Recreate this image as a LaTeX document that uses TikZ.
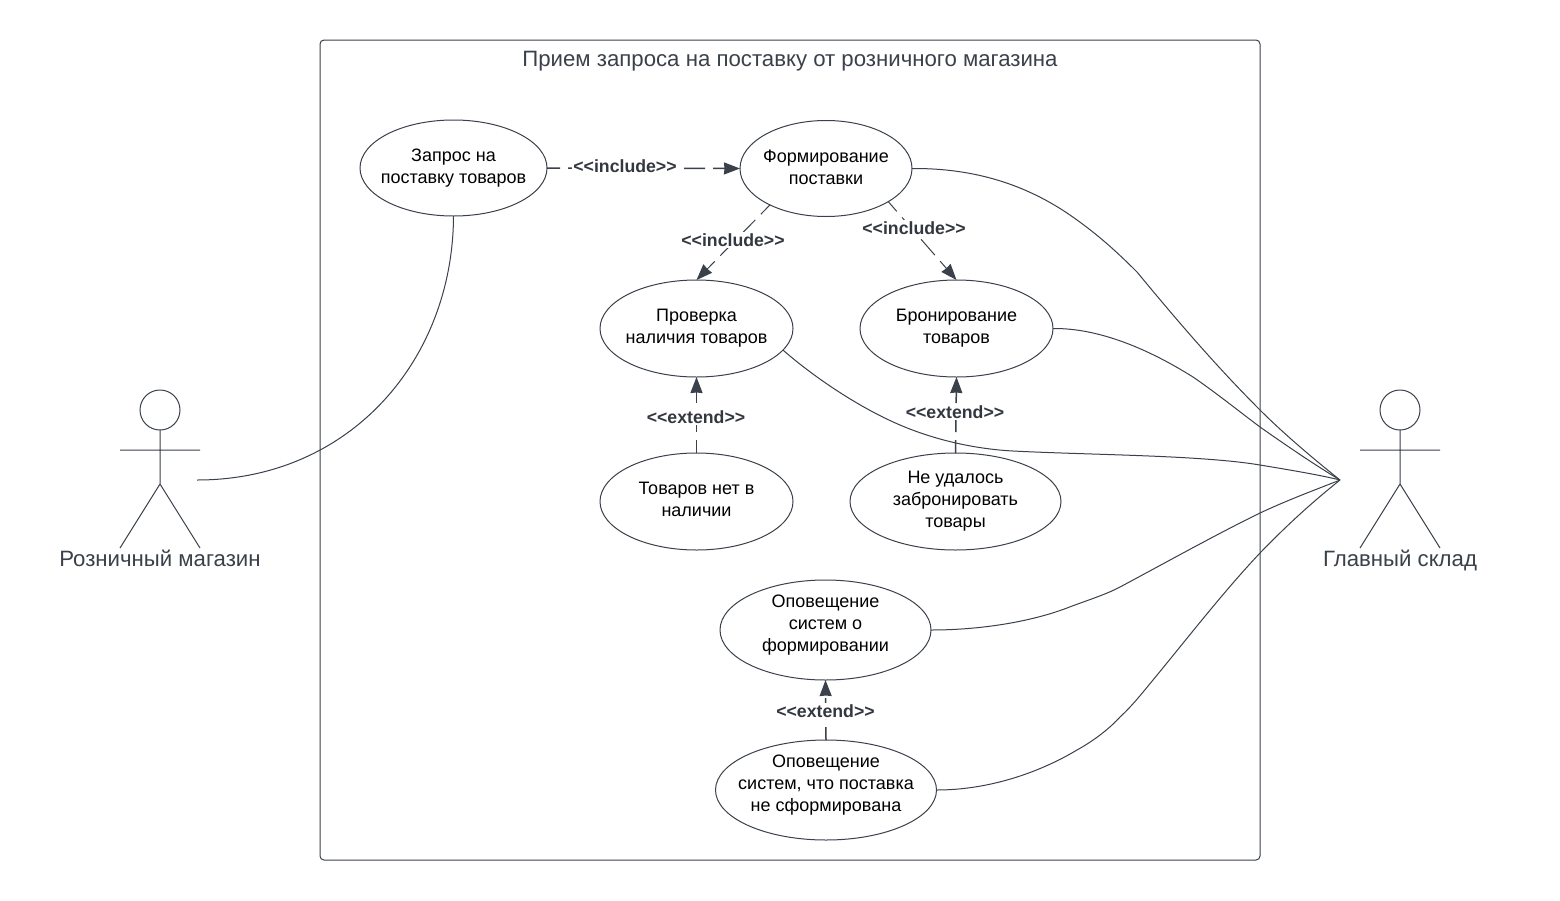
\documentclass[tikz,border=0pt]{standalone}
\usepackage{fontspec}
\setmainfont{Liberation Sans}
\usetikzlibrary{arrows.meta,shapes.geometric}
\definecolor{ink}{HTML}{3A414A}
\definecolor{labelink}{HTML}{333840}
\tikzset{
  x=1pt,y=-1pt,
  line/.style={draw=ink,line width=1pt},
  usecase/.style={ellipse,draw=ink,line width=1pt,inner sep=0pt,outer sep=0pt,fill=white},
  casetext/.style={align=center,text=black,inner sep=0pt,font=\fontsize{18}{22}\selectfont},
  rel/.style={draw=ink,line width=1.5pt,dash pattern=on 21pt off 8pt,dash phase=8pt,
    -{Stealth[length=16pt,width=12pt,inset=0.5pt]}},
  reldiag/.style={rel,line width=1pt},
  rellabel/.style={fill=white,inner sep=1.5pt,text=labelink,font=\bfseries\fontsize{17.7}{20}\selectfont},
  biglabel/.style={text=ink,inner sep=0pt,anchor=base,font=\fontsize{22.2}{26}\selectfont},
  head/.style={circle,draw=ink,line width=1pt,minimum size=40pt,inner sep=0pt,outer sep=0pt},
}
\begin{document}
\begin{tikzpicture}
\useasboundingbox (0,0) rectangle (1560,900);
\fill[white] (0,0) rectangle (1560,900);
\node[draw=ink,line width=1pt,rounded corners=4pt,minimum width=940pt,minimum height=820pt,inner sep=0pt,outer sep=0pt] (frame) at (790,450) {};
\node[biglabel] (title) at (790,66) {Прием запроса на поставку от розничного магазина};

\node[usecase,minimum width=187pt,minimum height=96pt,label={[casetext,yshift=0pt]center:{Запрос на\\поставку товаров}}] (req) at (453.5,168) {};
\node[usecase,minimum width=172pt,minimum height=96pt,label={[casetext,yshift=1.5pt]center:{Формирование\\поставки}}] (form) at (826,168.5) {};
\node[usecase,minimum width=193pt,minimum height=97pt,label={[casetext,yshift=0pt]center:{Проверка\\наличия товаров}}] (check) at (696.5,328.5) {};
\node[usecase,minimum width=193pt,minimum height=97pt,label={[casetext,yshift=0pt]center:{Бронирование\\товаров}}] (book) at (956.5,328.5) {};
\node[usecase,minimum width=193pt,minimum height=97pt,label={[casetext,yshift=2pt]center:{Товаров нет в\\наличии}}] (none) at (696.5,501.5) {};
\node[usecase,minimum width=211pt,minimum height=97pt,label={[casetext,yshift=0.5pt]center:{Не удалось\\забронировать\\товары}}] (fail) at (955.5,501.5) {};
\node[usecase,minimum width=211pt,minimum height=100pt,label={[casetext,yshift=5pt]center:{Оповещение\\систем о\\формировании}}] (notify) at (825.5,630) {};
\node[usecase,minimum width=221pt,minimum height=100pt,label={[casetext,yshift=5pt]center:{Оповещение\\систем, что поставка\\не сформирована}}] (notno) at (826,790) {};

% actors
\node[head] (la) at (160,410) {};
\node[head] (ra) at (1400,410) {};
\coordinate (lh) at (160,484);
\coordinate (rh) at (1400,484);
\coordinate (la1) at (120,450);
\coordinate (la2) at (200,450);
\coordinate (ra1) at (1360,450);
\coordinate (ra2) at (1440,450);
\coordinate (ll1) at (120,548);
\coordinate (ll2) at (200,548);
\coordinate (rl1) at (1360,548);
\coordinate (rl2) at (1440,548);
\draw[line] (la.south) -- (lh) (la1) -- (la2) (ll1) -- (lh) -- (ll2);
\draw[line] (ra.south) -- (rh) (ra1) -- (ra2) (rl1) -- (rh) -- (rl2);
\node[biglabel] (lname) at (160,566) {Розничный магазин};
\node[biglabel] (rname) at (1400,566) {Главный склад};

\coordinate (hub) at (1340,480);
\coordinate (lend) at (197,480);

% associations
\draw[line] (lend) .. controls (350,480) and (453,360) .. (req.south);
\draw[line] (form.east) .. controls (975,168) and (1025,185) .. (1067,213) .. controls (1095,232) and (1115,250) .. (1137,272) .. controls (1175,318) and (1215,365) .. (1260,410) .. controls (1285,435) and (1315,460) .. (hub);
\draw[line] (book.east) .. controls (1100,328) and (1150,350) .. (1193,377) .. controls (1215,392) and (1240,412) .. (1260,427) .. controls (1290,448) and (1315,465) .. (hub);
\draw[line] (check.-14) .. controls (815,378) and (860,408) .. (900,425) .. controls (935,440) and (975,449) .. (1013,451) .. controls (1090,455) and (1200,455) .. (1260,465) .. controls (1290,470) and (1320,475) .. (hub);
\draw[line] (notify.east) .. controls (980,630) and (1030,622) .. (1067,608) .. controls (1085,601) and (1105,595) .. (1120,587) .. controls (1165,563) and (1215,535) .. (1260,513) .. controls (1290,499) and (1315,490) .. (hub);
\draw[line] (notno.east) .. controls (985,790) and (1035,775) .. (1077,750) .. controls (1095,740) and (1110,728) .. (1120,717) .. controls (1133,705) and (1143,692) .. (1153,680) .. controls (1190,635) and (1225,590) .. (1260,553) .. controls (1290,522) and (1315,500) .. (hub);

% relations
\draw[rel] (req.east) -- (form.west);
\draw[reldiag] (form.-147) -- (check.north);
\draw[reldiag] (form.-28) -- (book.north);
\draw[rel] (none.north) -- (check.south);
\draw[rel] (fail.north) -- (book.south);
\draw[rel] (notno.north) -- (notify.south);

\node[rellabel] (l1) at (625,166) {{<}{<}include{>}{>}};
\node[rellabel] (l2) at (733,240) {{<}{<}include{>}{>}};
\node[rellabel] (l3) at (914,228) {{<}{<}include{>}{>}};
\node[rellabel] (l4) at (696,417) {{<}{<}extend{>}{>}};
\node[rellabel] (l5) at (955,412) {{<}{<}extend{>}{>}};
\node[rellabel] (l6) at (825.5,711) {{<}{<}extend{>}{>}};
\end{tikzpicture}
\end{document}
